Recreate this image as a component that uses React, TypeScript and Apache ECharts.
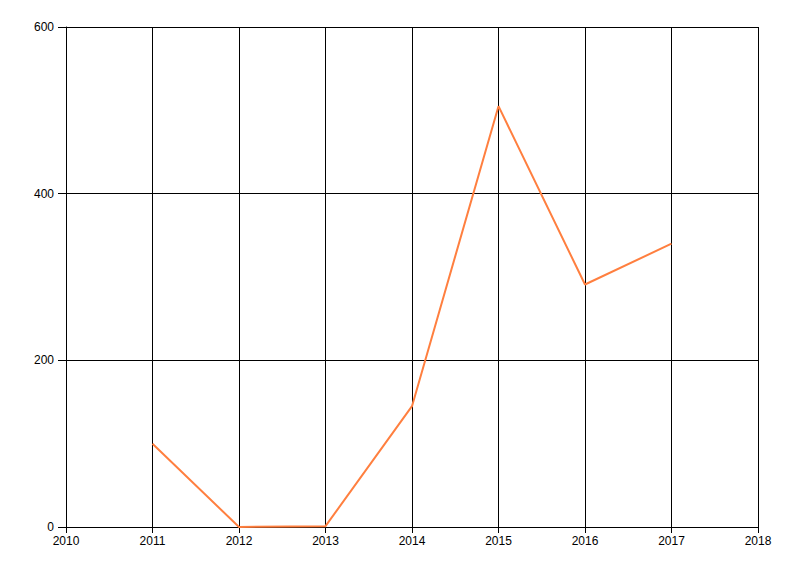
import React, { useEffect, useRef } from "react";
import * as echarts from "echarts";

const years = [2011, 2012, 2013, 2014, 2015, 2016, 2017];
const values = [100, 0, 1, 145, 505, 291, 340];
const xTicks = [2010, 2011, 2012, 2013, 2014, 2015, 2016, 2017, 2018];
const yTicks = [0, 200, 400, 600];

export default function App() {
  const ref = useRef<HTMLDivElement>(null);
  useEffect(() => {
    if (!ref.current) return;
    const chart = echarts.init(ref.current, null, { renderer: "svg" });
    const font = { fontFamily: "Liberation Sans, Arial, sans-serif", fontSize: 12, color: "#000" };
    chart.setOption({
      animation: false,
      backgroundColor: "#fff",
      grid: { left: 66, right: 42, top: 27, bottom: 49 },
      xAxis: {
        type: "value",
        min: xTicks[0],
        max: xTicks[xTicks.length - 1],
        interval: 1,
        axisLine: { show: true, lineStyle: { color: "#000", width: 1 } },
        axisTick: { show: true, length: 6, lineStyle: { color: "#000" } },
        axisLabel: { ...font, margin: 8, formatter: (v: number) => String(v) },
        splitLine: { show: true, lineStyle: { color: "#000", width: 1 } },
      },
      yAxis: {
        type: "value",
        min: yTicks[0],
        max: yTicks[yTicks.length - 1],
        interval: 200,
        axisLine: { show: true, lineStyle: { color: "#000", width: 1 } },
        axisTick: { show: true, length: 8, lineStyle: { color: "#000" } },
        axisLabel: { ...font, margin: 12 },
        splitLine: { show: true, lineStyle: { color: "#000", width: 1 } },
      },
      series: [
        {
          type: "line",
          data: years.map((y, i) => [y, values[i]]),
          showSymbol: false,
          lineStyle: { color: "#ff7f3f", width: 2 },
          itemStyle: { color: "#ff7f3f" },
        },
      ],
    });
    return () => chart.dispose();
  }, []);
  return <div ref={ref} style={{ width: 800, height: 576, position: "absolute", left: 0, top: 0 }} />;
}
